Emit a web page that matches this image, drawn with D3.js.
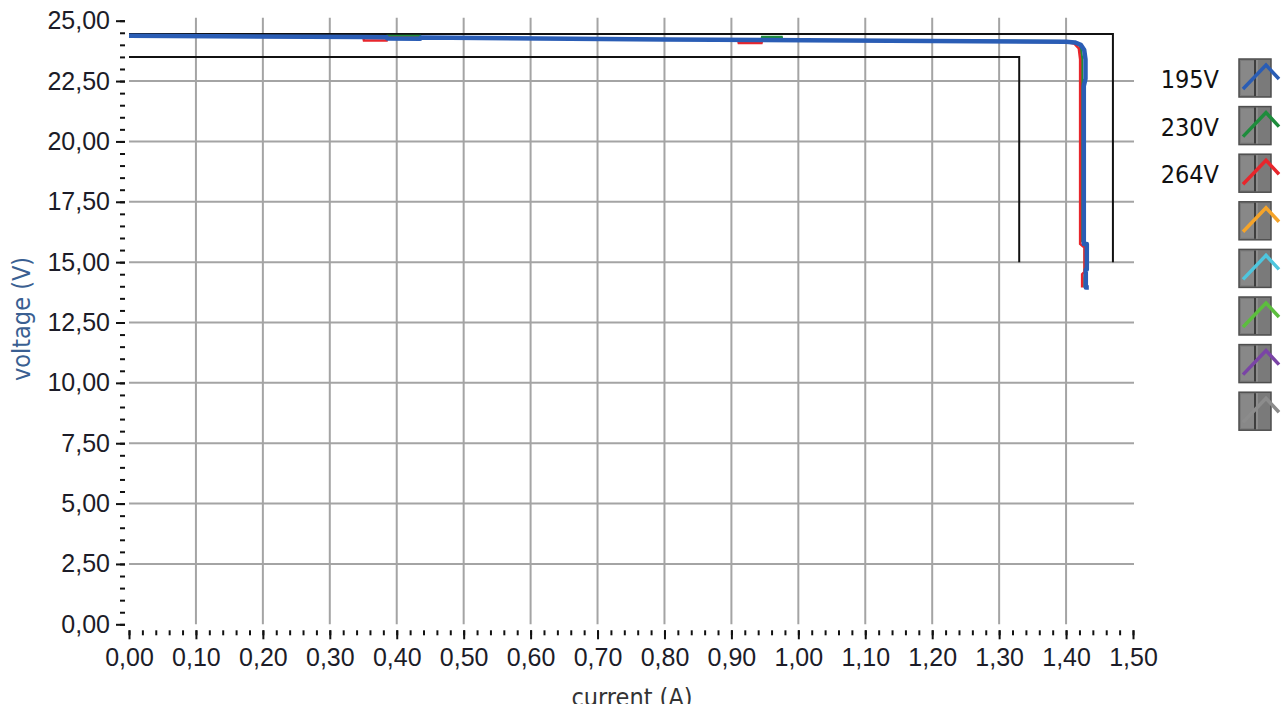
<!DOCTYPE html>
<html>
<head>
<meta charset="utf-8">
<script src="https://cdn.jsdelivr.net/npm/d3@7"></script>
<style>
  body { margin: 0; background: #fff; }
  svg { display: block; font-family: "DejaVu Sans Condensed", "DejaVu Sans", sans-serif; font-stretch: condensed; }
</style>
</head>
<body>
<div id="chart"></div>
<script>
// data: [current (A), voltage (V)]
var series195 = [[0,24.38],[0.35,24.32],[0.385,24.31],[0.386,24.26],[0.435,24.25],[0.436,24.30],[0.80,24.22],[1.20,24.16],[1.40,24.13],
  [1.413,24.10],[1.422,24.00],[1.427,23.80],[1.429,23.40],[1.429,22.60],[1.4265,22.30],[1.4265,15.75],[1.431,15.75],
  [1.431,14.70],[1.4295,14.70],[1.4295,13.95],[1.434,13.95]];
var series230 = [[0,24.37],[0.385,24.32],[0.386,24.37],[0.435,24.37],[0.436,24.30],[0.945,24.21],[0.946,24.33],[0.975,24.33],
  [0.976,24.19],[1.40,24.15],[1.414,24.10],[1.421,23.95],[1.4235,23.50],[1.4235,15.90],[1.428,15.70],[1.428,14.50],
  [1.4275,14.30],[1.4275,13.95]];
var series264 = [[0,24.36],[0.35,24.31],[0.351,24.18],[0.385,24.18],[0.386,24.29],[0.91,24.20],[0.911,24.08],[0.945,24.08],
  [0.946,24.19],[1.40,24.12],[1.412,24.06],[1.419,23.85],[1.421,23.40],[1.421,15.75],[1.4275,15.60],[1.4275,14.60],
  [1.424,14.50],[1.424,13.95]];
var limitOuter = [[0,24.45],[1.47,24.45],[1.47,15.0]];
var limitInner = [[0,23.5],[1.33,23.5],[1.33,15.0]];

var legendLabels = ['195V','230V','264V','','','','',''];
var legendColors = ['#2a5db5','#1e8c3c','#e8262c','#f5a42a','#4ec6de','#5cbe3e','#7a44a6','#8c8c8c'];

var xMajor = d3.range(0, 1.5001, 0.1);
var xMinor = d3.range(0, 1.5001, 0.02);
var yMajor = d3.range(0, 25.001, 2.5);
var yMinor = d3.range(0, 25.001, 0.5);

// plot area
var plotLeft = 129, plotRight = 1133, plotTop = 20.7, plotBottom = 624.3;

var svg = d3.select("#chart").append("svg")
    .attr("width", 1288)
    .attr("height", 704);

var x = d3.scaleLinear().domain([0, 1.5]).range([plotLeft, plotRight]);
var y = d3.scaleLinear().domain([0, 25]).range([plotBottom, plotTop]);

var fmt = d3.formatLocale({decimal: ",", thousands: ".", grouping: [3], currency: ["", ""]}).format(".2f");

// grid (inner lines only)
svg.append("g").selectAll("line")
    .data(yMajor.filter(function(d){ return d > 0 && d < 25; }))
    .enter().append("line")
    .attr("x1", plotLeft).attr("x2", plotRight + 1)
    .attr("y1", function(d){ return y(d); }).attr("y2", function(d){ return y(d); })
    .attr("stroke", "#a4a4a4").attr("stroke-width", 2);
svg.append("g").selectAll("line")
    .data(xMajor.filter(function(d){ return d > 0.05 && d < 1.45; }))
    .enter().append("line")
    .attr("y1", plotTop - 3).attr("y2", plotBottom)
    .attr("x1", function(d){ return x(d); }).attr("x2", function(d){ return x(d); })
    .attr("stroke", "#a4a4a4").attr("stroke-width", 2);

// y axis
var yMinorAxis = svg.append("g")
    .attr("transform", "translate(" + (plotLeft - 4) + ",0)")
    .call(d3.axisLeft(y).tickValues(yMinor).tickSize(5).tickFormat(""));
var yAxis = svg.append("g")
    .attr("transform", "translate(" + (plotLeft - 4) + ",0)")
    .call(d3.axisLeft(y).tickValues(yMajor).tickSize(9).tickPadding(6).tickFormat(fmt));

// x axis
var xMinorAxis = svg.append("g")
    .attr("transform", "translate(0," + (plotBottom + 6) + ")")
    .call(d3.axisBottom(x).tickValues(xMinor).tickSize(5).tickFormat(""));
var xAxis = svg.append("g")
    .attr("transform", "translate(0," + (plotBottom + 6) + ")")
    .call(d3.axisBottom(x).tickValues(xMajor).tickSize(9).tickPadding(9).tickFormat(fmt));

[yMinorAxis, yAxis, xMinorAxis, xAxis].forEach(function(g){
    g.select(".domain").remove();
    g.selectAll(".tick line").attr("stroke", "#111").attr("stroke-width", 2);
    g.selectAll("text").attr("fill", "#1c1c28").style("font-size", "25px");
});

// axis titles
svg.append("text")
    .attr("transform", "translate(30,319) rotate(-90)")
    .attr("text-anchor", "middle")
    .style("font-size", "25px")
    .attr("fill", "#3a5f92")
    .text("voltage (V)");
svg.append("text")
    .attr("x", 632).attr("y", 706)
    .attr("text-anchor", "middle")
    .style("font-size", "25px")
    .attr("fill", "#333")
    .text("current (A)");

var line = d3.line()
    .x(function(d){ return x(d[0]); })
    .y(function(d){ return y(d[1]); });

// limit lines
[limitOuter, limitInner].forEach(function(d){
    svg.append("path").datum(d)
        .attr("d", line)
        .attr("fill", "none")
        .attr("stroke", "#111")
        .attr("stroke-width", 2);
});

// measured curves (blue on top)
svg.append("path").datum(series230).attr("d", line)
    .attr("fill", "none").attr("stroke", legendColors[1]).attr("stroke-width", 2.5);
svg.append("path").datum(series264).attr("d", line)
    .attr("fill", "none").attr("stroke", legendColors[2]).attr("stroke-width", 2.5);
svg.append("path").datum(series195).attr("d", line)
    .attr("fill", "none").attr("stroke", legendColors[0]).attr("stroke-width", 4.5)
    .attr("stroke-linejoin", "round");

// legend
var legend = svg.append("g");
var step = 47.6;
legend.selectAll("text")
    .data(legendLabels)
    .enter().append("text")
    .attr("x", 1219)
    .attr("y", function(d,i){ return 88 + i*step; })
    .attr("text-anchor", "end")
    .style("font-size", "25px")
    .attr("fill", "#111")
    .text(function(d){ return d; });

var icons = legend.selectAll("g.icon")
    .data(legendColors)
    .enter().append("g")
    .attr("class", "icon")
    .attr("transform", function(d,i){ return "translate(1239," + (59 + i*step) + ")"; });
icons.append("rect")
    .attr("width", 32).attr("height", 38)
    .attr("fill", "#7a7a7a").attr("stroke", "#4e4e4e").attr("stroke-width", 1.5);
icons.append("rect")
    .attr("x", 2).attr("y", 2).attr("width", 13).attr("height", 34)
    .attr("fill", "#888");
icons.append("line")
    .attr("x1", 16).attr("x2", 16).attr("y1", 1).attr("y2", 37)
    .attr("stroke", "#3e3e3e").attr("stroke-width", 2);
icons.append("line")
    .attr("x1", 18).attr("x2", 18).attr("y1", 1).attr("y2", 37)
    .attr("stroke", "#a0a0a0").attr("stroke-width", 1);
icons.append("polyline")
    .attr("points", "4,30 27,6 40,20")
    .attr("fill", "none")
    .attr("stroke", function(d){ return d; })
    .attr("stroke-width", 3.5);
</script>
</body>
</html>
